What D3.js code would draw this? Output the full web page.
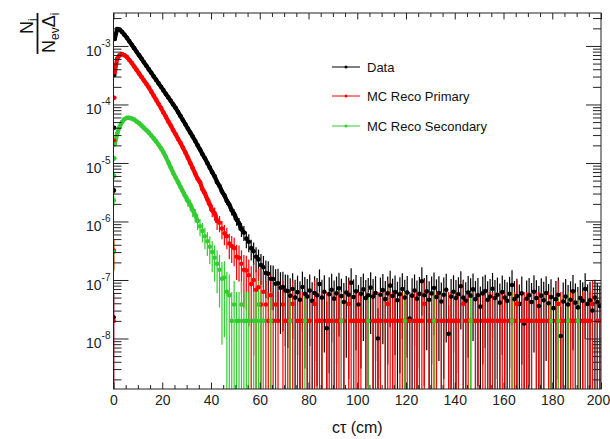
<!DOCTYPE html>
<html><head><meta charset="utf-8">
<script src="https://cdn.jsdelivr.net/npm/d3@7"></script>
<style>
body{margin:0;background:#fff;}
svg{display:block;}
text{font-family:"Liberation Sans",Arial,Helvetica,sans-serif;}
</style>
</head><body>
<svg id="chart" width="610" height="439"></svg>
<script>
// ---------------- DATA ----------------
const binWidth = 1; // cm
const ctCenters = d3.range(0.5, 200, binWidth); // bin centres of the histogram
const earlyCt = [0.05, 0.15, 0.25, 0.35];       // first, finer bins next to ct = 0

const dataVals = [
 1.32e-3,1.95e-3,1.91e-3,1.74e-3,1.55e-3,1.38e-3,1.20e-3,1.05e-3,9.12e-4,7.94e-4,
 6.92e-4,6.03e-4,5.25e-4,4.57e-4,3.98e-4,3.47e-4,3.02e-4,2.63e-4,2.29e-4,2.00e-4,
 1.74e-4,1.51e-4,1.32e-4,1.15e-4,1.00e-4,8.71e-5,7.41e-5,6.31e-5,5.37e-5,4.57e-5,
 3.89e-5,3.31e-5,2.82e-5,2.40e-5,2.00e-5,1.70e-5,1.41e-5,1.20e-5,1.00e-5,8.32e-6,
 6.92e-6,5.90e-6,4.70e-6,4.05e-6,3.25e-6,2.80e-6,2.25e-6,1.95e-6,1.55e-6,1.35e-6,
 1.08e-6,9.3e-7,7.4e-7,6.5e-7,5.1e-7,4.5e-7,3.5e-7,3.1e-7,2.5e-7,2.25e-7,
 1.80e-7,1.65e-7,1.32e-7,1.28e-7,1.05e-7,1.04e-7,8.6e-8,8.8e-8,7.4e-8,7.6e-8,
 6.6e-8,6.5e-8,5.4e-8,7.0e-8,5.0e-8,6.2e-8,4.6e-8,7.6e-8,5.8e-8,5.2e-8,
 6.6e-8,4.4e-8,6.0e-8,5.5e-8,8.5e-8,5.0e-8,6.3e-8,1.5e-8,5.7e-8,6.8e-8,
 4.8e-8,5.9e-8,7.2e-8,5.3e-8,4.2e-8,6.1e-8,5.6e-8,9.0e-8,5.1e-8,6.4e-8,
 3.8e-8,5.8e-8,6.9e-8,4.9e-8,5.5e-8,7.4e-8,5.2e-8,6.0e-8,1.0e-8,5.6e-8,
 6.7e-8,4.7e-8,5.9e-8,8.0e-8,5.3e-8,6.2e-8,4.5e-8,5.7e-8,7.0e-8,5.0e-8,
 6.1e-8,2.2e-8,5.4e-8,6.6e-8,4.8e-8,5.8e-8,9.5e-8,5.5e-8,6.4e-8,4.6e-8,
 5.9e-8,7.3e-8,5.1e-8,6.0e-8,4.3e-8,5.6e-8,6.8e-8,1.2e-8,5.2e-8,6.3e-8,
 4.9e-8,5.7e-8,7.8e-8,5.0e-8,4.4e-8,6.1e-8,5.4e-8,6.9e-8,4.7e-8,5.5e-8,
 3.5e-8,5.9e-8,6.5e-8,4.6e-8,5.2e-8,7.1e-8,4.9e-8,5.6e-8,4.1e-8,6.2e-8,
 5.0e-8,4.4e-8,5.8e-8,8.2e-8,4.7e-8,5.3e-8,3.9e-8,5.9e-8,1.8e-8,4.8e-8,
 5.5e-8,4.2e-8,6.3e-8,4.9e-8,3.6e-8,5.4e-8,4.5e-8,6.0e-8,4.0e-8,5.1e-8,
 3.3e-8,4.7e-8,5.6e-8,1.1e-8,4.3e-8,5.2e-8,3.8e-8,4.6e-8,6.4e-8,4.1e-8,
 3.4e-8,4.9e-8,4.4e-8,7.0e-8,3.9e-8,4.5e-8,3.0e-8,5.0e-8,4.2e-8,3.6e-8
];

const primaryVals = [
 3.55e-4,6.03e-4,6.92e-4,7.24e-4,6.92e-4,6.46e-4,5.75e-4,5.13e-4,4.47e-4,3.89e-4,
 3.39e-4,2.95e-4,2.57e-4,2.24e-4,1.95e-4,1.66e-4,1.41e-4,1.20e-4,1.02e-4,8.71e-5,
 7.24e-5,6.17e-5,5.13e-5,4.37e-5,3.63e-5,3.09e-5,2.57e-5,2.19e-5,1.82e-5,1.51e-5,
 1.23e-5,1.00e-5,8.13e-6,6.61e-6,5.37e-6,4.68e-6,3.55e-6,3.02e-6,2.40e-6,1.95e-6,
 1.55e-6,1.38e-6,1.02e-6,9.5e-7,7.6e-7,6.3e-7,5.6e-7,4.2e-7,3.8e-7,3.5e-7,
 2.5e-7,2.4e-7,1.9e-7,1.5e-7,1.45e-7,1.2e-7,8.5e-8,1.0e-7,6.8e-8,7.5e-8,
 3.8e-8,6.3e-8,3.8e-8,2.0e-8,5.5e-8,2.0e-8,3.8e-8,2.0e-8,0,3.8e-8,
 2e-8,2e-8,2e-8,3.9e-8,0,2e-8,2e-8,2e-8,0,2e-8,
 2e-8,0,3.9e-8,2e-8,2e-8,2e-8,0,2e-8,2e-8,2e-8,
 0,2e-8,2e-8,2e-8,2e-8,0,3.9e-8,2e-8,2e-8,2e-8,
 2e-8,2e-8,0,2e-8,2e-8,0,2e-8,2e-8,2e-8,2e-8,
 0,2e-8,3.9e-8,2e-8,2e-8,2e-8,0,2e-8,2e-8,2e-8,
 2e-8,2e-8,0,2e-8,2e-8,2e-8,2e-8,3.9e-8,0,2e-8,
 2e-8,2e-8,2e-8,0,2e-8,2e-8,0,2e-8,2e-8,2e-8,
 2e-8,2e-8,0,3.9e-8,2e-8,2e-8,2e-8,0,2e-8,2e-8,
 0,2e-8,2e-8,2e-8,2e-8,2e-8,0,2e-8,2e-8,2e-8,
 2e-8,0,2e-8,2e-8,2e-8,3.9e-8,0,2e-8,2e-8,2e-8,
 2e-8,2e-8,0,2e-8,2e-8,2e-8,2e-8,0,2e-8,2e-8,
 0,2e-8,3.9e-8,2e-8,2e-8,0,2e-8,2e-8,2e-8,2e-8,
 2e-8,0,2e-8,2e-8,2e-8,2e-8,3.9e-8,0,2e-8,2e-8
];

const secondaryVals = [
 2.09e-5,3.16e-5,4.17e-5,5.01e-5,5.62e-5,5.89e-5,5.89e-5,5.75e-5,5.50e-5,5.13e-5,
 4.79e-5,4.37e-5,3.98e-5,3.63e-5,3.31e-5,2.95e-5,2.63e-5,2.34e-5,2.04e-5,1.78e-5,
 1.51e-5,1.26e-5,1.02e-5,8.32e-6,6.76e-6,5.62e-6,4.68e-6,3.89e-6,3.24e-6,2.69e-6,
 2.24e-6,1.95e-6,1.55e-6,1.30e-6,1.02e-6,8.3e-7,6.9e-7,5.6e-7,4.6e-7,3.7e-7,
 3.0e-7,2.4e-7,1.9e-7,1.5e-7,1.05e-7,1.1e-7,6.3e-8,5.5e-8,2.0e-8,3.8e-8,
 2.0e-8,2.0e-8,3.8e-8,2.0e-8,2.0e-8,2.0e-8,0,2.0e-8,2.0e-8,3.8e-8,
 2.0e-8,2.0e-8,0,0,2.0e-8,0,0,0,0,0,
 0,0,2e-8,0,0,0,0,0,2e-8,0,
 0,0,0,0,0,0,0,0,0,0,
 0,0,0,2e-8,0,0,0,0,0,0,
 0,0,0,0,2e-8,0,0,0,0,0,
 0,0,0,0,0,0,0,0,0,2e-8,
 0,0,0,0,0,0,0,0,0,0,
 0,2e-8,0,0,0,0,0,0,0,0,
 0,0,0,0,0,0,2e-8,0,0,0,
 0,0,0,0,0,0,0,0,0,0,
 0,0,0,2e-8,0,0,0,0,0,0,
 0,0,0,0,0,0,0,0,0,2e-8,
 0,0,2e-8,0,0,0,2e-8,0,0,0,
 2e-8,0,0,0,0,0,0,0,0,0
];

const earlyData      = [2.3e-8, 3.4e-6, 4.0e-5, 3.2e-4];
const earlyPrimary   = [2.0e-8, 3.2e-7, 2.4e-5, 1.3e-4];
const earlySecondary = [3.0e-7, 2.3e-6, 6.0e-6, 1.2e-5];

const seriesNames  = ["Data", "MC Reco Primary", "MC Reco Secondary"];
const seriesColors = ["#000000", "#ff0000", "#33cc33"];
const entryWeights = [5.2e-8, 9e-8, 9e-8]; // weight of one entry, for the Poisson error bars

const xTickValues = [0, 20, 40, 60, 80, 100, 120, 140, 160, 180, 200];
const xMinorValues = d3.range(0, 201, 5).filter(v => v % 20 !== 0);
const yDecades = [-8, -7, -6, -5, -4, -3];
const yDomain = [1.37e-9, 3.66e-3];

// ---------------- CHART ----------------
const svg = d3.select("#chart");
const L = 113.5, R = 601, T = 13, B = 389;
const x = d3.scaleLinear().domain([0, 200]).range([L, R]);
const y = d3.scaleLog().domain(yDomain).range([B, T]);

const yMinorValues = [];
for (let e = -9; e <= -3; e++) for (let k = 2; k <= 9; k++) {
  const v = k * Math.pow(10, e);
  if (v > yDomain[0] && v < yDomain[1]) yMinorValues.push(v);
}
const yMajorValues = yDecades.map(e => Math.pow(10, e));

svg.append("defs").append("clipPath").attr("id", "plotclip")
  .append("rect").attr("x", L).attr("y", T).attr("width", R - L).attr("height", B - T);

const plot = svg.append("g").attr("clip-path", "url(#plotclip)");

const series = [
  {vals: dataVals, early: earlyData},
  {vals: primaryVals, early: earlyPrimary},
  {vals: secondaryVals, early: earlySecondary}
].map((s, i) => {
  const pts = [];
  s.early.forEach((v, j) => { if (v > 0) pts.push({c: earlyCt[j], v, w: 0}); });
  const bins = s.vals.map((v, j) => ({c: ctCenters[j], v, w: binWidth}));
  bins.forEach(b => { b.err = b.v > 0 ? Math.sqrt(b.v * entryWeights[i]) : 0; });
  bins.forEach(b => { if (b.v > 0) pts.push(b); });
  pts.forEach(p => { p.err = Math.sqrt(p.v * entryWeights[i]); });
  return {pts, bins, color: seriesColors[i], name: seriesNames[i]};
});

// error bars
series.forEach(s => {
  const g = plot.append("g").attr("stroke", s.color);
  g.selectAll("line.v").data(s.pts).join("line").attr("class", "v")
    .attr("stroke-width", 1.2)
    .attr("x1", d => x(d.c)).attr("x2", d => x(d.c))
    .attr("y1", d => y(d.v + d.err))
    .attr("y2", d => (d.v - d.err) > yDomain[0] ? y(d.v - d.err) : B + 2);
  g.selectAll("line.h").data(s.pts.filter(d => d.w > 0)).join("line").attr("class", "h")
    .attr("stroke-width", 1.6)
    .attr("x1", d => x(d.c - d.w / 2)).attr("x2", d => x(d.c + d.w / 2))
    .attr("y1", d => y(d.v)).attr("y2", d => y(d.v));
});
// dense markers: where the statistics are good the fine-binned markers merge into a band
const band = d3.line()
  .defined(d => d.v > 0 && d.err / d.v < 0.3)
  .x(d => x(d.c)).y(d => y(d.v));
series.forEach(s => {
  plot.append("path").datum(s.bins).attr("d", band)
    .attr("fill", "none").attr("stroke", s.color).attr("stroke-width", 4.2)
    .attr("stroke-linecap", "round").attr("stroke-linejoin", "round");
});
// markers
series.forEach(s => {
  plot.append("g").attr("fill", s.color)
    .selectAll("circle").data(s.pts).join("circle")
    .attr("cx", d => x(d.c)).attr("cy", d => y(d.v)).attr("r", 2.3);
});

// axes
const axisColor = "#222";
function styleAxis(g) {
  g.select(".domain").remove();
  g.attr("color", axisColor).attr("font-size", 14)
   .attr("font-family", "'Liberation Sans', Arial, sans-serif");
}
const bottomMajor = svg.append("g").attr("transform", `translate(0,${B})`)
  .call(d3.axisBottom(x).tickValues(xTickValues).tickSize(-6.5).tickPadding(6).tickFormat(d3.format("d")))
  .call(styleAxis);
bottomMajor.selectAll(".tick text").filter(d => d === 200).attr("x", -3);
svg.append("g").attr("transform", `translate(0,${B})`)
  .call(d3.axisBottom(x).tickValues(xMinorValues).tickSize(-4).tickFormat(""))
  .call(styleAxis);
svg.append("g").attr("transform", `translate(0,${T})`)
  .call(d3.axisTop(x).tickValues(xTickValues).tickSize(-6.5).tickFormat(""))
  .call(styleAxis);
svg.append("g").attr("transform", `translate(0,${T})`)
  .call(d3.axisTop(x).tickValues(xMinorValues).tickSize(-4).tickFormat(""))
  .call(styleAxis);

const leftMajor = svg.append("g").attr("transform", `translate(${L},0)`)
  .call(d3.axisLeft(y).tickValues(yMajorValues).tickSize(-15).tickFormat(""))
  .call(styleAxis);
leftMajor.selectAll(".tick").each(function(d) {
  const t = d3.select(this).select("text");
  t.text(null).attr("x", -3).attr("dy", null).attr("y", 9.5).attr("text-anchor", "end");
  t.append("tspan").text("10");
  t.append("tspan").attr("font-size", 10).attr("dy", -9).text("-" + Math.abs(Math.round(Math.log10(d))));
});
svg.append("g").attr("transform", `translate(${L},0)`)
  .call(d3.axisLeft(y).tickValues(yMinorValues).tickSize(-8).tickFormat(""))
  .call(styleAxis);
svg.append("g").attr("transform", `translate(${R},0)`)
  .call(d3.axisRight(y).tickValues(yMajorValues).tickSize(-15).tickFormat(""))
  .call(styleAxis);
svg.append("g").attr("transform", `translate(${R},0)`)
  .call(d3.axisRight(y).tickValues(yMinorValues).tickSize(-8).tickFormat(""))
  .call(styleAxis);

// frame
svg.append("rect").attr("x", L).attr("y", T).attr("width", R - L).attr("height", B - T)
  .attr("fill", "none").attr("stroke", axisColor).attr("stroke-width", 1);

// x title
svg.append("text").attr("x", (L + R) / 2).attr("y", 433).attr("text-anchor", "middle")
  .attr("font-size", 16).attr("fill", "#111").text("cτ (cm)");

// y title (fraction), rotated
const yt = svg.append("g").attr("transform", "translate(37.5,0) rotate(-90)").attr("fill", "#111");
const num = yt.append("text").attr("x", -34).attr("y", -4.5).attr("font-size", 18);
num.append("tspan").text("N");
num.append("tspan").attr("font-size", 12).attr("dy", 4).text("i");
yt.append("line").attr("x1", -54).attr("x2", -13).attr("y1", 0).attr("y2", 0)
  .attr("stroke", "#111").attr("stroke-width", 1.8);
const den = yt.append("text").attr("x", -53).attr("y", 17.5).attr("font-size", 18);
den.append("tspan").text("N");
den.append("tspan").attr("font-size", 12).attr("dy", 4).text("ev");
den.append("tspan").attr("dy", -4).text("Δ");
den.append("tspan").attr("font-size", 12).attr("dy", 4).text("i");

// legend
const legendY = [67, 96, 126];
series.forEach((s, i) => {
  const g = svg.append("g").attr("transform", `translate(0,${legendY[i]})`);
  g.append("line").attr("x1", 332).attr("x2", 360).attr("y1", 0).attr("y2", 0)
    .attr("stroke", s.color).attr("stroke-width", 1);
  g.append("circle").attr("cx", 346).attr("cy", 0).attr("r", 1.5).attr("fill", s.color);
  g.append("text").attr("x", 367).attr("y", 5).attr("font-size", 13).attr("fill", "#111").text(s.name);
});
</script>
</body></html>
